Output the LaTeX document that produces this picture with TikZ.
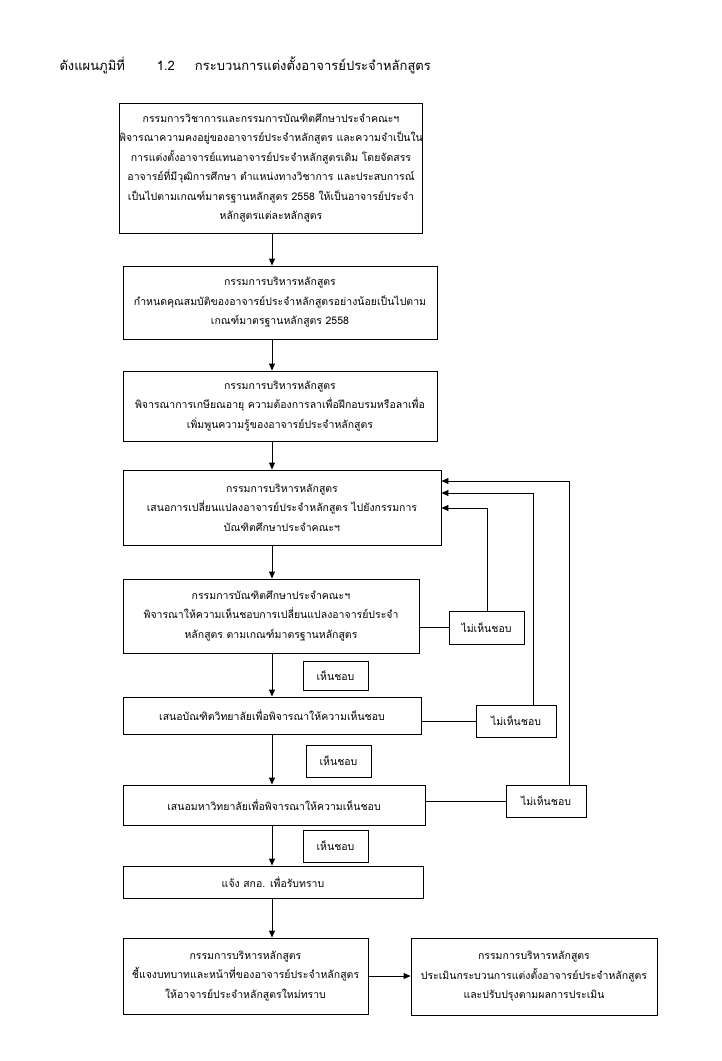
\documentclass[tikz,border=0pt]{standalone}
\usepackage{fontspec}
\newfontfamily\thai[Script=Thai]{Loma}
\usetikzlibrary{arrows.meta,calc}
\begin{document}
\begin{tikzpicture}[x=1pt,y=-1pt,
  every node/.style={font=\thai\fontsize{10.5}{19.5}\selectfont},
  box/.style={draw,line width=0.9pt,align=center,inner sep=0pt},
  lbl/.style={draw,line width=0.9pt,align=center,inner sep=0pt},
  conn/.style={line width=0.9pt},
  arr/.style={line width=0.9pt,-{Triangle[length=7pt,width=6pt]}}]
\useasboundingbox[fill=white] (0,0) rectangle (721,1061);
\node[anchor=west,font=\thai\fontsize{13}{16}\selectfont] (title) at (56,65)
  {ดังแผนภูมิที่\hspace{32pt}1.2\hspace{20pt}กระบวนการแต่งตั้งอาจารย์ประจำหลักสูตร};
\node[box,minimum width=296,minimum height=130] (b1) at (271,168)
  {กรรมการวิชาการและกรรมการบัณฑิตศึกษาประจำคณะฯ\\
   พิจารณาความคงอยู่ของอาจารย์ประจำหลักสูตร และความจำเป็นใน\\
   การแต่งตั้งอาจารย์แทนอาจารย์ประจำหลักสูตรเดิม โดยจัดสรร\\
   อาจารย์ที่มีวุฒิการศึกษา ตำแหน่งทางวิชาการ และประสบการณ์\\
   เป็นไปตามเกณฑ์มาตรฐานหลักสูตร 2558 ให้เป็นอาจารย์ประจำ\\
   หลักสูตรแต่ละหลักสูตร};
\node[box,minimum width=314,minimum height=73] (b2) at (280,302.5)
  {กรรมการบริหารหลักสูตร\\
   กำหนดคุณสมบัติของอาจารย์ประจำหลักสูตรอย่างน้อยเป็นไปตาม\\
   เกณฑ์มาตรฐานหลักสูตร 2558};
\node[box,minimum width=314,minimum height=70] (b3) at (280,406)
  {กรรมการบริหารหลักสูตร\\
   พิจารณาการเกษียณอายุ ความต้องการลาเพื่อฝึกอบรมหรือลาเพื่อ\\
   เพิ่มพูนความรู้ของอาจารย์ประจำหลักสูตร};
\node[box,minimum width=318,minimum height=75] (b4) at (282,507.5)
  {กรรมการบริหารหลักสูตร\\
   เสนอการเปลี่ยนแปลงอาจารย์ประจำหลักสูตร ไปยังกรรมการ\\
   บัณฑิตศึกษาประจำคณะฯ};
\node[box,minimum width=296,minimum height=74] (b5) at (271,616)
  {กรรมการบัณฑิตศึกษาประจำคณะฯ\\
   พิจารณาให้ความเห็นชอบการเปลี่ยนแปลงอาจารย์ประจำ\\
   หลักสูตร ตามเกณฑ์มาตรฐานหลักสูตร};
\node[box,minimum width=298,minimum height=37] (b6) at (272,715.5)
  {เสนอบัณฑิตวิทยาลัยเพื่อพิจารณาให้ความเห็นชอบ};
\node[box,minimum width=302,minimum height=40] (b7) at (274,805)
  {เสนอมหาวิทยาลัยเพื่อพิจารณาให้ความเห็นชอบ};
\node[box,minimum width=300,minimum height=32] (b8) at (273,882)
  {แจ้ง สกอ. เพื่อรับทราบ};
\node[box,minimum width=245,minimum height=76] (b9) at (245.5,976)
  {กรรมการบริหารหลักสูตร\\
   ชี้แจงบทบาทและหน้าที่ของอาจารย์ประจำหลักสูตร\\
   ให้อาจารย์ประจำหลักสูตรใหม่ทราบ};
\node[box,minimum width=246,minimum height=77] (b10) at (534,976.5)
  {กรรมการบริหารหลักสูตร\\
   ประเมินกระบวนการแต่งตั้งอาจารย์ประจำหลักสูตร\\
   และปรับปรุงตามผลการประเมิน};
\node[lbl,minimum width=65,minimum height=29] (y1) at (335.5,675.5) {เห็นชอบ};
\node[lbl,minimum width=65,minimum height=32] (y2) at (338.5,761) {เห็นชอบ};
\node[lbl,minimum width=65,minimum height=32] (y3) at (335.5,846) {เห็นชอบ};
\node[lbl,minimum width=75,minimum height=33] (n1) at (486.5,627.5) {ไม่เห็นชอบ};
\node[lbl,minimum width=80,minimum height=32] (n2) at (516,721) {ไม่เห็นชอบ};
\node[lbl,minimum width=80,minimum height=32] (n3) at (546,801) {ไม่เห็นชอบ};
\coordinate (sp) at (272,0);
\coordinate (f1) at (487,508);
\coordinate (f2) at (533,493);
\coordinate (f3) at (569,481);
\draw[arr] (b1.south -| sp) -- (b2.north -| sp);
\draw[arr] (b2.south -| sp) -- (b3.north -| sp);
\draw[arr] (b3.south -| sp) -- (b4.north -| sp);
\draw[arr] (b4.south -| sp) -- (b5.north -| sp);
\draw[arr] (b5.south -| sp) -- (b6.north -| sp);
\draw[arr] (b6.south -| sp) -- (b7.north -| sp);
\draw[arr] (b7.south -| sp) -- (b8.north -| sp);
\draw[arr] (b8.south -| sp) -- (b9.north -| sp);
\draw[arr] (b9.east) -- (b9.east -| b10.west);
\draw[conn] (b5.east |- n1.west) -- (n1.west);
\draw[conn] (b6.east |- n2.west) -- (n2.west);
\draw[conn] (b7.east |- n3.west) -- (n3.west);
\draw[arr] (n1.north -| f1) -- (f1) -- (b4.east |- f1);
\draw[arr] (n2.north -| f2) -- (f2) -- (b4.east |- f2);
\draw[arr] (n3.north -| f3) -- (f3) -- (b4.east |- f3);
\end{tikzpicture}
\end{document}
